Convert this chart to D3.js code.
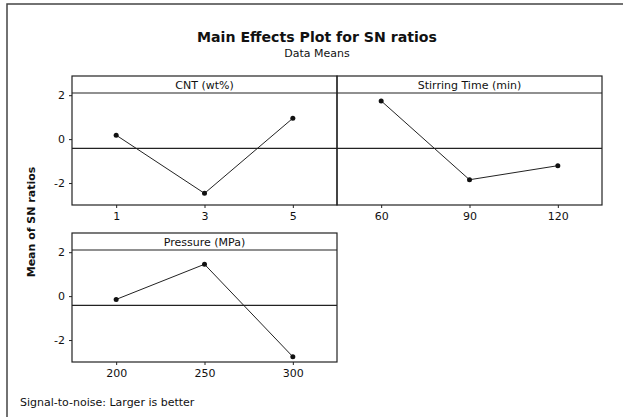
<!DOCTYPE html>
<html>
<head>
<meta charset="utf-8">
<script src="https://cdn.jsdelivr.net/npm/d3@7"></script>
<style>
  body { margin: 0; background: #fff; }
  text { font-family: "DejaVu Sans", sans-serif; fill: #111; }
  .tick-label { font-size: 11px; }
  .panel-title { font-size: 11px; }
</style>
</head>
<body>
<svg id="chart" width="623" height="417"></svg>
<script>
// values
const factors = ["CNT (wt%)", "Stirring Time (min)", "Pressure (MPa)"]
const cntLevels = ["1", "3", "5"]
const cntMeans = [0.18, -2.47, 0.95]
const stirLevels = ["60", "90", "120"]
const stirMeans = [1.74, -1.85, -1.21]
const pressLevels = ["200", "250", "300"]
const pressMeans = [-0.15, 1.45, -2.76]
const grandMean = -0.42
const yTicks = [-2, 0, 2]

const W = 623, H = 417
const svg = d3.select("#chart")

// outer frame (runs off the right and bottom in the original)
svg.append("rect")
  .attr("x", 7).attr("y", 4)
  .attr("width", W).attr("height", H)
  .attr("fill", "none")
  .attr("stroke", "#444")
  .attr("stroke-width", 1.5)

svg.append("text")
  .attr("x", 317).attr("y", 42)
  .attr("text-anchor", "middle")
  .attr("textLength", 240)
  .attr("lengthAdjust", "spacingAndGlyphs")
  .style("font-size", "14px")
  .style("font-weight", "bold")
  .text("Main Effects Plot for SN ratios")

svg.append("text")
  .attr("x", 317).attr("y", 57)
  .attr("text-anchor", "middle")
  .style("font-size", "11px")
  .text("Data Means")

svg.append("text")
  .attr("transform", "translate(35,222) rotate(-90)")
  .attr("text-anchor", "middle")
  .style("font-size", "11px")
  .style("font-weight", "bold")
  .text("Mean of SN ratios")

svg.append("text")
  .attr("x", 20).attr("y", 406)
  .style("font-size", "11px")
  .text("Signal-to-noise: Larger is better")

const panels = [
  {name: factors[0], levels: cntLevels, means: cntMeans, x0: 72, top: 76, yAxis: true},
  {name: factors[1], levels: stirLevels, means: stirMeans, x0: 337, top: 76, yAxis: false},
  {name: factors[2], levels: pressLevels, means: pressMeans, x0: 72, top: 233, yAxis: true}
]
const pw = 265, headH = 17, plotH = 112

panels.forEach(p => {
  const g = svg.append("g")
  const plotTop = p.top + headH
  const bottom = plotTop + plotH

  const x = d3.scalePoint()
    .domain(p.levels)
    .range([p.x0, p.x0 + pw])
    .padding(0.5)

  const y = d3.scaleLinear()
    .domain([-3, 2.1])
    .range([bottom, plotTop])

  // panel box + header strip
  g.append("rect")
    .attr("x", p.x0).attr("y", p.top)
    .attr("width", pw).attr("height", headH + plotH)
    .attr("fill", "none")
    .attr("stroke", "#222")
    .attr("stroke-width", 1.2)

  g.append("line")
    .attr("x1", p.x0).attr("x2", p.x0 + pw)
    .attr("y1", plotTop).attr("y2", plotTop)
    .attr("stroke", "#222")
    .attr("stroke-width", 1.2)

  g.append("text")
    .attr("class", "panel-title")
    .attr("x", p.x0 + pw / 2)
    .attr("y", p.top + 12.5)
    .attr("text-anchor", "middle")
    .text(p.name)

  // reference line at the overall mean
  g.append("line")
    .attr("x1", p.x0).attr("x2", p.x0 + pw)
    .attr("y1", y(grandMean)).attr("y2", y(grandMean))
    .attr("stroke", "#222")
    .attr("stroke-width", 1.2)

  const xAxis = d3.axisBottom(x).tickSize(3).tickPadding(4)
  const ax = g.append("g")
    .attr("transform", `translate(0,${bottom})`)
    .call(xAxis)
  ax.select(".domain").remove()
  ax.selectAll("line").attr("stroke", "#222")
  ax.selectAll("text").attr("class", "tick-label").style("font-size", "11px").attr("fill", "#111")

  if (p.yAxis){
    const yAxis = d3.axisLeft(y)
      .tickValues(yTicks)
      .tickFormat(d => String(d))
      .tickSize(3)
      .tickPadding(4)
    const ay = g.append("g")
      .attr("transform", `translate(${p.x0},0)`)
      .call(yAxis)
    ay.select(".domain").remove()
    ay.selectAll("line").attr("stroke", "#222")
    ay.selectAll("text").attr("class", "tick-label").style("font-size", "11px").attr("fill", "#111")
  }

  const line = d3.line()
    .x((d, i) => x(p.levels[i]))
    .y(d => y(d))

  g.append("path")
    .datum(p.means)
    .attr("d", line)
    .attr("fill", "none")
    .attr("stroke", "#222")
    .attr("stroke-width", 1)

  g.selectAll("circle")
    .data(p.means)
    .join("circle")
    .attr("cx", (d, i) => x(p.levels[i]))
    .attr("cy", d => y(d))
    .attr("r", 2.5)
    .attr("fill", "#111")
})
</script>
</body>
</html>
